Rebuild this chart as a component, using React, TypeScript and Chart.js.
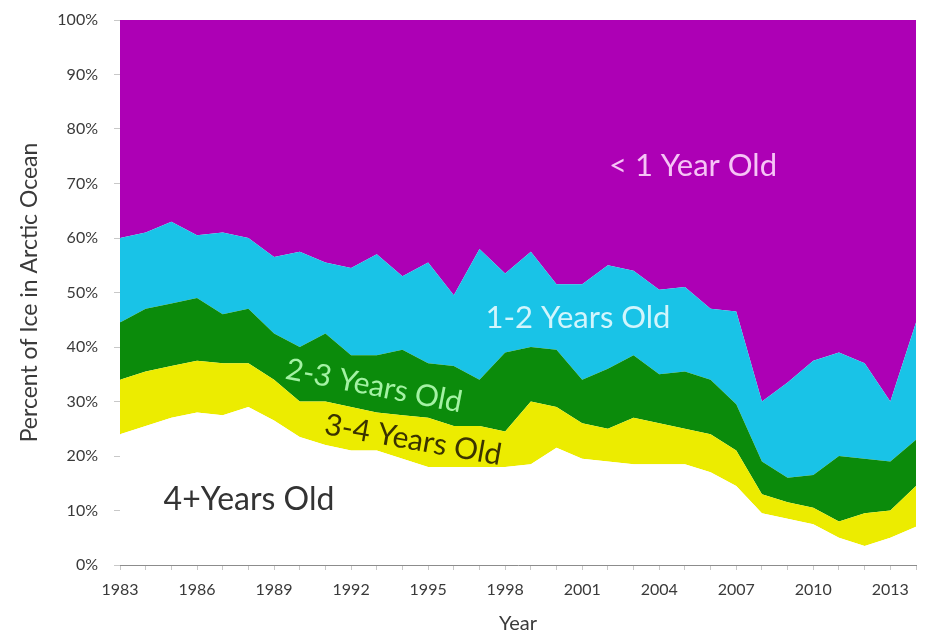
import React, { useEffect, useRef } from "react";
import { Chart, registerables } from "chart.js";

Chart.register(...registerables);

const years = [
  1983, 1984, 1985, 1986, 1987, 1988, 1989, 1990, 1991, 1992, 1993, 1994, 1995, 1996, 1997, 1998,
  1999, 2000, 2001, 2002, 2003, 2004, 2005, 2006, 2007, 2008, 2009, 2010, 2011, 2012, 2013, 2014,
];

const age4plus = [
  24, 25.5, 27, 28, 27.5, 29, 26.5, 23.5, 22, 21, 21, 19.5, 18, 18, 18, 18,
  18.5, 21.5, 19.5, 19, 18.5, 18.5, 18.5, 17, 14.5, 9.5, 8.5, 7.5, 5, 3.5, 5, 7,
];
const age3to4 = [
  10, 10, 9.5, 9.5, 9.5, 8, 7.5, 6.5, 8, 8, 7, 8, 9, 7.5, 7.5, 6.5,
  11.5, 7.5, 6.5, 6, 8.5, 7.5, 6.5, 7, 6.5, 3.5, 3, 3, 3, 6, 5, 7.5,
];
const age2to3 = [
  10.5, 11.5, 11.5, 11.5, 9, 10, 8.5, 10, 12.5, 9.5, 10.5, 12, 10, 11, 8.5, 14.5,
  10, 10.5, 8, 11, 11.5, 9, 10.5, 10, 8.5, 6, 4.5, 6, 12, 10, 9, 8.5,
];
const age1to2 = [
  15.5, 14, 15, 11.5, 15, 13, 14, 17.5, 13, 16, 18.5, 13.5, 18.5, 13, 24, 14.5,
  17.5, 12, 17.5, 19, 15.5, 15.5, 15.5, 13, 17, 11, 17.5, 21, 19, 17.5, 11, 21.5,
];
const ageUnder1 = [
  40, 39, 37, 39.5, 39, 40, 43.5, 42.5, 44.5, 45.5, 43, 47, 44.5, 50.5, 42, 46.5,
  42.5, 48.5, 48.5, 45, 46, 49.5, 49, 53, 53.5, 70, 66.5, 62.5, 61, 63, 70, 55.5,
];

const yTicks = [0, 10, 20, 30, 40, 50, 60, 70, 80, 90, 100];

const seriesNames = ["4+Years Old", "3-4 Years Old", "2-3 Years Old", "1-2 Years Old", "< 1 Year Old"];

const FONT = "Lato, 'Open Sans', sans-serif";

const areaLabels = [
  { text: "< 1 Year Old", x: 693, y: 166, color: "#F6C4F6", rot: 0, size: 31 },
  { text: "1-2 Years Old", x: 578, y: 318, color: "#D2F5FC", rot: 0, size: 31 },
  { text: "2-3 Years Old", x: 374, y: 386, color: "#A4F2A4", rot: 11, size: 30 },
  { text: "3-4 Years Old", x: 413, y: 440, color: "#3A3300", rot: 10, size: 30 },
  { text: "4+Years Old", x: 249, y: 500, color: "#333333", rot: 0, size: 32 },
];

const labelPlugin = {
  id: "areaLabels",
  afterDatasetsDraw(chart: any) {
    const ctx = chart.ctx;
    ctx.save();
    ctx.textAlign = "center";
    ctx.textBaseline = "middle";
    for (const l of areaLabels) {
      ctx.save();
      ctx.translate(l.x, l.y);
      ctx.rotate((l.rot * Math.PI) / 180);
      ctx.font = `${l.size}px ${FONT}`;
      ctx.fillStyle = l.color;
      ctx.fillText(l.text, 0, 0);
      ctx.restore();
    }
    ctx.restore();
  },
};

export default function App() {
  const ref = useRef<HTMLCanvasElement>(null);

  useEffect(() => {
    if (!ref.current) return;
    const colors = ["#FFFFFF", "#ECEC00", "#0B8B0B", "#19C3E7", "#AD00B5"];
    const values = [age4plus, age3to4, age2to3, age1to2, ageUnder1];
    const chart = new Chart(ref.current, {
      type: "line",
      data: {
        labels: years.map(String),
        datasets: values.map((v, i) => ({
          label: seriesNames[i],
          data: v,
          backgroundColor: colors[i],
          borderColor: colors[i],
          borderWidth: 0,
          pointRadius: 0,
          tension: 0,
          fill: i === 0 ? "origin" : "-1",
        })),
      },
      options: {
        responsive: false,
        animation: false,
        events: [],
        layout: { padding: { top: 20, right: 6, left: 0, bottom: 0 } },
        plugins: {
          legend: { display: false },
          tooltip: { enabled: false },
        },
        scales: {
          x: {
            type: "category",
            offset: false,
            grid: {
              display: true,
              drawOnChartArea: false,
              drawTicks: true,
              tickLength: 5,
              color: "#c8c8c8",
            },
            border: { display: true, color: "#8c8c8c", width: 1 },
            ticks: {
              autoSkip: false,
              maxRotation: 0,
              minRotation: 0,
              padding: 10,
              color: "#3a3a3a",
              font: { family: FONT, size: 16 },
              callback: (_v: any, i: number) => (i % 3 === 0 ? String(years[i]) : ""),
            },
            title: {
              display: true,
              text: "Year",
              color: "#3a3a3a",
              font: { family: FONT, size: 20 },
              padding: { top: 0, bottom: 0 },
            },
            afterFit: (s: any) => {
              s.height = 71;
            },
          },
          y: {
            stacked: true,
            min: 0,
            max: 100,
            afterBuildTicks: (s: any) => {
              s.ticks = yTicks.map((v) => ({ value: v }));
            },
            grid: {
              display: true,
              drawOnChartArea: false,
              drawTicks: true,
              tickLength: 6,
              color: "#c8c8c8",
            },
            border: { display: true, color: "#8c8c8c", width: 1 },
            ticks: {
              padding: 16,
              color: "#3a3a3a",
              font: { family: FONT, size: 16, lineHeight: 0.5 },
              callback: (v: any) => `${v}%`,
            },
            title: {
              display: true,
              text: "Percent of Ice in Arctic Ocean",
              color: "#3a3a3a",
              font: { family: FONT, size: 23 },
              padding: { top: 16, bottom: 8 },
            },
            afterFit: (s: any) => {
              s.width = 120;
            },
          },
        },
      },
      plugins: [labelPlugin],
    });
    return () => chart.destroy();
  }, []);

  return (
    <div style={{ position: "fixed", left: 0, top: 0, width: 926, height: 636, background: "#fff" }}>
      <canvas ref={ref} width={926} height={636} style={{ width: 926, height: 636 }} />
    </div>
  );
}
